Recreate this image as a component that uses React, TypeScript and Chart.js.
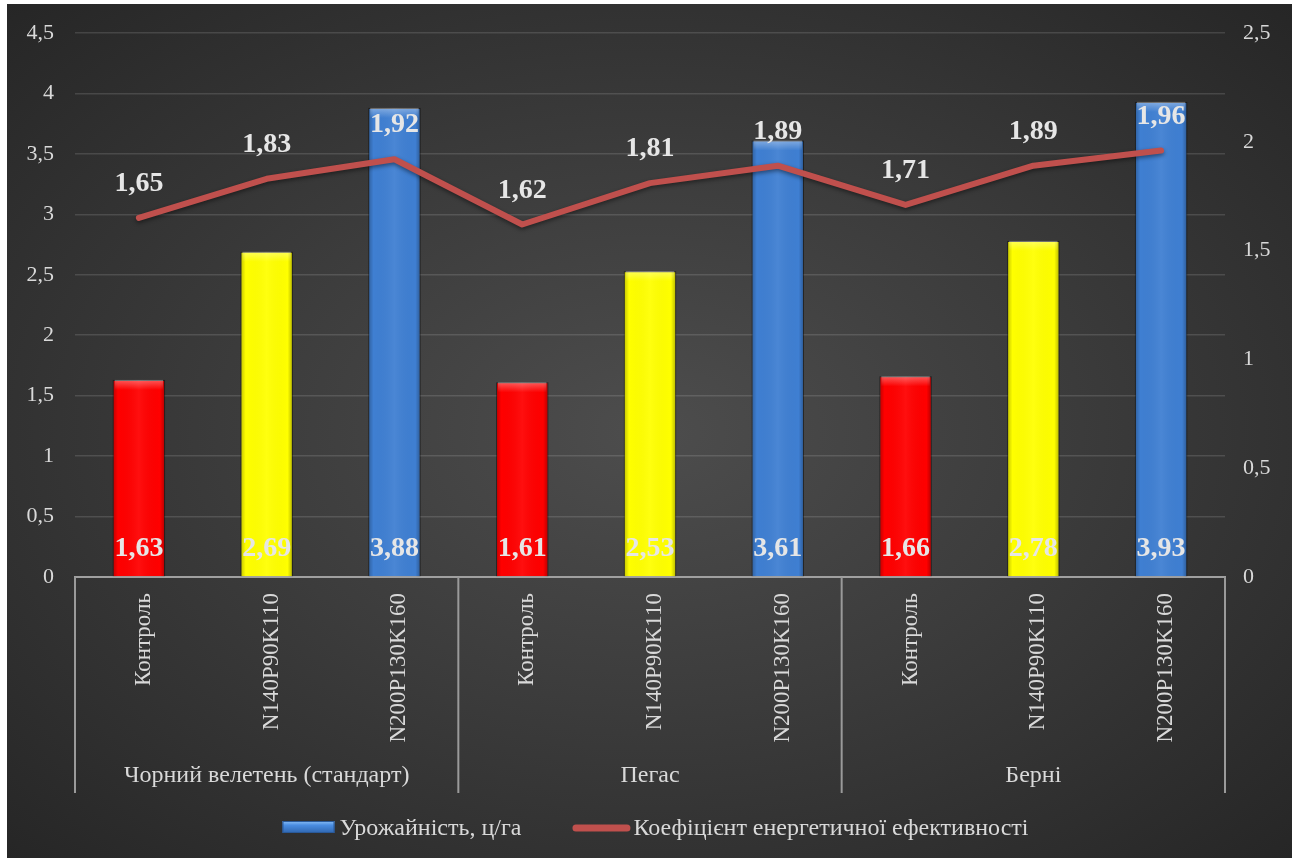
import { useEffect, useRef } from 'react';
import { Chart, registerables } from 'chart.js';

Chart.register(...registerables);

// Fertilizer variants for each variety
const categories = [
  'Контроль', 'N140P90K110', 'N200P130K160',
  'Контроль', 'N140P90K110', 'N200P130K160',
  'Контроль', 'N140P90K110', 'N200P130K160',
];
const groups = ['Чорний велетень (стандарт)', 'Пегас', 'Берні'];
const groupSize = 3;

// Yield, c/ha (left axis)
const yieldValues = [1.63, 2.69, 3.88, 1.61, 2.53, 3.61, 1.66, 2.78, 3.93];
// Energy efficiency coefficient (right axis)
const efficiencyValues = [1.65, 1.83, 1.92, 1.62, 1.81, 1.89, 1.71, 1.89, 1.96];

const seriesNames = ['Урожайність, ц/га', 'Коефіцієнт енергетичної ефективності'];

const variantColors = ['#ff0000', '#ffff00', '#3f7fd2'];
const barColors = yieldValues.map((_, i) => variantColors[i % groupSize]);
const lineColor = '#c0504d';

const leftAxis = { min: 0, max: 4.5, step: 0.5 };
const rightAxis = { min: 0, max: 2.5, step: 0.5 };

const FONT = "'Liberation Serif', 'Times New Roman', serif";
const TEXT = '#d9d9d9';

const comma = (v: number, digits?: number) =>
  (digits === undefined ? String(v) : v.toFixed(digits)).replace('.', ',');

const decorations = {
  id: 'decorations',
  beforeDatasetDraw(chart: any, args: any) {
    if (args.index === 1) {
      const ctx = chart.ctx;
      ctx.save();
      ctx.shadowColor = 'rgba(0,0,0,0.45)';
      ctx.shadowBlur = 4;
      ctx.shadowOffsetY = 2;
    }
  },
  afterDatasetDraw(chart: any, args: any) {
    const ctx = chart.ctx;
    if (args.index === 1) {
      ctx.restore();
      return;
    }
    if (args.index !== 0) return;
    // bevel shading on each bar
    args.meta.data.forEach((el: any) => {
      const { x, y, base, width } = el.getProps(['x', 'y', 'base', 'width'], true);
      const l = x - width / 2;
      const h = base - y;
      ctx.save();
      const g = ctx.createLinearGradient(l, 0, l + width, 0);
      g.addColorStop(0, 'rgba(0,0,0,0.25)');
      g.addColorStop(0.1, 'rgba(0,0,0,0)');
      g.addColorStop(0.5, 'rgba(255,255,255,0.06)');
      g.addColorStop(0.9, 'rgba(0,0,0,0)');
      g.addColorStop(1, 'rgba(0,0,0,0.3)');
      ctx.fillStyle = g;
      ctx.fillRect(l, y, width, h);
      const t = ctx.createLinearGradient(0, y, 0, y + 10);
      t.addColorStop(0, 'rgba(255,255,255,0.35)');
      t.addColorStop(1, 'rgba(255,255,255,0)');
      ctx.fillStyle = t;
      ctx.fillRect(l + 2, y, width - 4, 10);
      ctx.restore();
    });
  },
  afterDatasetsDraw(chart: any) {
    const ctx = chart.ctx;
    const area = chart.chartArea;
    ctx.save();
    ctx.font = `bold 28px ${FONT}`;
    ctx.textAlign = 'center';
    ctx.textBaseline = 'middle';
    ctx.fillStyle = '#e6e6e6';
    chart.getDatasetMeta(0).data.forEach((el: any, i: number) => {
      ctx.fillText(comma(yieldValues[i], 2), el.x, area.bottom - 28);
    });
    chart.getDatasetMeta(1).data.forEach((el: any, i: number) => {
      ctx.fillText(comma(efficiencyValues[i], 2), el.x, el.y - 34);
    });
    ctx.restore();
  },
  afterDraw(chart: any) {
    const ctx = chart.ctx;
    const xs = chart.scales.x;
    const top = chart.chartArea.bottom;
    const bottom = top + 216;
    const bounds: number[] = [xs.left];
    for (let g = 1; g < groups.length; g++) {
      const a = xs.getPixelForValue(g * groupSize - 1);
      const b = xs.getPixelForValue(g * groupSize);
      bounds.push((a + b) / 2);
    }
    bounds.push(xs.right);
    ctx.save();
    // group separators and variety names
    ctx.strokeStyle = '#9a9a9a';
    ctx.lineWidth = 2;
    bounds.forEach((bx) => {
      ctx.beginPath();
      ctx.moveTo(bx, top);
      ctx.lineTo(bx, bottom);
      ctx.stroke();
    });
    ctx.font = `24px ${FONT}`;
    ctx.fillStyle = TEXT;
    ctx.textAlign = 'center';
    ctx.textBaseline = 'middle';
    groups.forEach((name, g) => {
      ctx.fillText(name, (bounds[g] + bounds[g + 1]) / 2, top + 199);
    });

    // legend
    ctx.textAlign = 'left';
    const w1 = ctx.measureText(seriesNames[0]).width;
    const w2 = ctx.measureText(seriesNames[1]).width;
    const total = 52 + 5 + w1 + 51 + 58 + 3 + w2;
    let x = (chart.width - total) / 2 + 6;
    const cy = 823;
    const sg = ctx.createLinearGradient(0, cy - 6, 0, cy + 6);
    sg.addColorStop(0, '#8cc0f5');
    sg.addColorStop(0.35, '#4a8de2');
    sg.addColorStop(1, '#2f66b0');
    ctx.fillStyle = sg;
    ctx.fillRect(x, cy - 6, 52, 12);
    ctx.strokeStyle = '#2a5a9a';
    ctx.lineWidth = 1;
    ctx.strokeRect(x + 0.5, cy - 5.5, 51, 11);
    x += 57;
    ctx.fillStyle = TEXT;
    ctx.fillText(seriesNames[0], x, cy + 2);
    x += w1 + 51;
    ctx.strokeStyle = lineColor;
    ctx.lineWidth = 7;
    ctx.lineCap = 'round';
    ctx.beginPath();
    ctx.moveTo(x + 3.5, cy + 1);
    ctx.lineTo(x + 54.5, cy + 1);
    ctx.stroke();
    x += 61;
    ctx.fillText(seriesNames[1], x, cy + 2);
    ctx.restore();
  },
};

const fitVertical = (width: number) => (s: any) => {
  s.width = width;
  s.paddingTop = 0;
  s.paddingBottom = 0;
};

export default function App() {
  const canvasRef = useRef<HTMLCanvasElement | null>(null);

  useEffect(() => {
    if (!canvasRef.current) return;
    const chart = new Chart(canvasRef.current, {
      type: 'bar',
      data: {
        labels: categories,
        datasets: [
          {
            type: 'bar',
            label: seriesNames[0],
            data: yieldValues,
            backgroundColor: barColors,
            borderColor: 'rgba(0,0,0,0.25)',
            borderWidth: 1,
            yAxisID: 'y',
            order: 1,
            barPercentage: 0.41,
            categoryPercentage: 1,
          },
          {
            type: 'line',
            label: seriesNames[1],
            data: efficiencyValues,
            borderColor: lineColor,
            backgroundColor: lineColor,
            borderWidth: 6,
            borderCapStyle: 'round',
            borderJoinStyle: 'round',
            pointRadius: 0,
            tension: 0,
            yAxisID: 'y1',
            order: 0,
          },
        ],
      },
      options: {
        animation: false,
        responsive: true,
        maintainAspectRatio: false,
        layout: { padding: { top: 29, left: 0, right: 0, bottom: 0 } },
        scales: {
          x: {
            grid: { display: false },
            border: { display: true, color: '#a0a0a0', width: 2 },
            ticks: {
              color: TEXT,
              font: { family: FONT, size: 23 },
              minRotation: 90,
              maxRotation: 90,
              padding: 8,
              labelOffset: 5,
              autoSkip: false,
            },
            afterFit: (s: any) => {
              s.height = 281;
              s.paddingLeft = 0;
              s.paddingRight = 0;
            },
          },
          y: {
            position: 'left',
            min: leftAxis.min,
            max: leftAxis.max,
            grid: { color: 'rgba(255,255,255,0.13)', lineWidth: 1.5, drawTicks: false },
            border: { display: false },
            ticks: {
              stepSize: leftAxis.step,
              color: TEXT,
              font: { family: FONT, size: 22 },
              padding: 21,
              callback: (v: any) => comma(Number(v)),
            },
            afterFit: fitVertical(68),
          },
          y1: {
            position: 'right',
            min: rightAxis.min,
            max: rightAxis.max,
            grid: { display: false, drawTicks: false },
            border: { display: false },
            ticks: {
              stepSize: rightAxis.step,
              color: TEXT,
              font: { family: FONT, size: 22 },
              padding: 18,
              callback: (v: any) => comma(Number(v)),
            },
            afterFit: fitVertical(67),
          },
        },
        plugins: {
          tooltip: { enabled: false },
          legend: { display: false },
        },
      },
      plugins: [decorations],
    } as any);
    return () => chart.destroy();
  }, []);

  return (
    <div
      style={{
        position: 'absolute',
        left: 7,
        top: 4,
        width: 1285,
        height: 854,
        background:
          'radial-gradient(ellipse at 50% 50%, #4d4d4d 0%, #3c3c3c 45%, #262626 100%)',
      }}
    >
      <canvas ref={canvasRef} />
    </div>
  );
}
